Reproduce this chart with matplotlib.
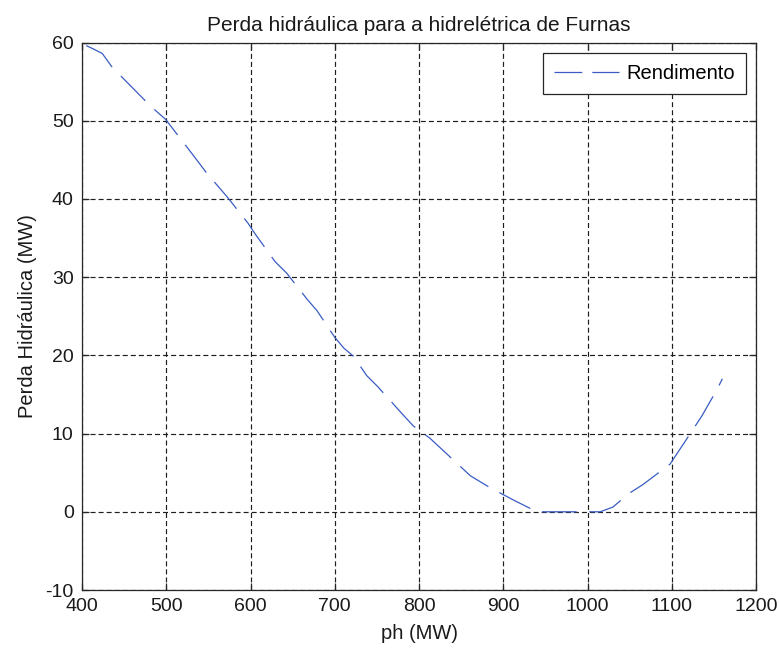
import matplotlib
matplotlib.use('Agg')
import matplotlib.pyplot as plt
from matplotlib.lines import Line2D

# perda hidraulica da usina de Furnas em funcao da potencia gerada
ph = [405, 413, 424, 436, 449, 482, 499, 524, 534, 548, 560, 572, 597, 605,
      629, 643, 667, 679, 700, 711, 722, 738, 751, 781, 793, 813, 825, 861,
      884, 914, 940, 1015, 1030, 1050, 1066, 1098, 1106, 1122, 1136, 1154, 1160]
perda = [59.6, 59.2, 58.6, 56.8, 55.4, 51.8, 50.2, 46.7, 45.3, 43.3, 41.8, 40.3,
         36.9, 35.6, 32.0, 30.5, 27.2, 25.7, 22.3, 20.9, 19.9, 17.4, 16.0, 12.4,
         11.0, 9.4, 8.2, 4.6, 3.1, 1.4, 0.0, 0.0, 0.6, 2.4, 3.5, 6.1, 7.4, 10.0,
         12.3, 15.7, 17.0]

xticks = [400, 500, 600, 700, 800, 900, 1000, 1100, 1200]
yticks = [-10, 0, 10, 20, 30, 40, 50, 60]

plt.rcParams['font.family'] = ['Liberation Sans', 'DejaVu Sans']
plt.rcParams['font.size'] = 14
plt.rcParams['lines.scale_dashes'] = False
plt.rcParams['axes.unicode_minus'] = False

fig = plt.figure(figsize=(7.79, 6.5), dpi=100)
ax = fig.add_axes([0.1053, 0.0923, 0.8652, 0.8423])

cor = '#3a5cc4'
ax.plot(ph, perda, color=cor, linewidth=0.9, dashes=(25, 9))

ax.set_xlim(400, 1200)
ax.set_ylim(-10, 60)
ax.set_xticks(xticks)
ax.set_yticks(yticks)
ax.tick_params(direction='in', length=5, width=0.9, color='#262626',
               top=True, right=True, pad=6, labelcolor='#1a1a1a')
for s in ax.spines.values():
    s.set_color('#262626')
    s.set_linewidth(0.9)

ax.grid(True, color='#1e1e1e', linestyle=(0, (3.6, 2.2)), linewidth=0.85)

ax.set_title('Perda hidráulica para a hidrelétrica de Furnas', fontsize=15,
             pad=8, color='#1a1a1a')
ax.set_xlabel('ph (MW)', fontsize=14.5, color='#1a1a1a', labelpad=6)
ax.set_ylabel('Perda Hidráulica (MW)', fontsize=14.5, color='#1a1a1a',
              labelpad=6)

# amostra da legenda com tracos mais curtos, como no MATLAB
amostra = Line2D([], [], color=cor, linewidth=0.9, dashes=(20, 7.2))
leg = ax.legend(handles=[amostra], labels=['Rendimento'], loc='upper right',
                fontsize=14.5, fancybox=False, framealpha=1,
                edgecolor='#262626', handlelength=3.25, handletextpad=0.35,
                borderpad=0.55, borderaxespad=0.5)
leg.get_frame().set_linewidth(0.9)

fig.savefig('out.png', dpi=100)
